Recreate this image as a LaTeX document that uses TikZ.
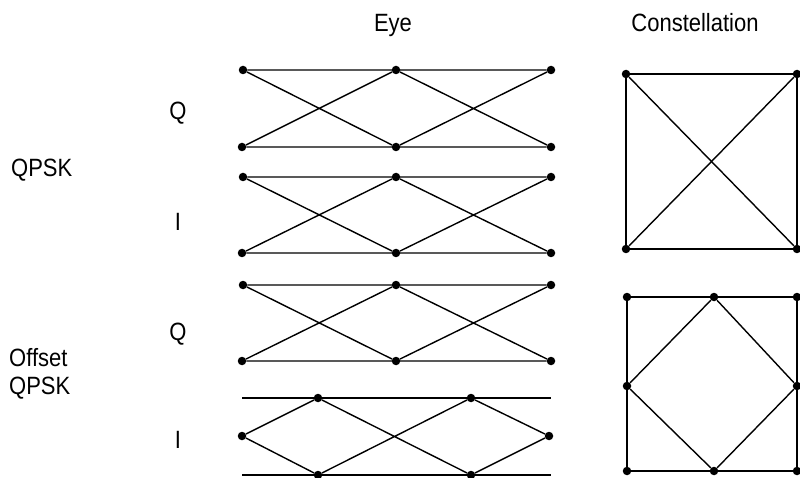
\documentclass[tikz,border=0pt]{standalone}
\usepackage{fontspec}
\setmainfont[FakeStretch=0.88]{Liberation Sans}
\usetikzlibrary{positioning}
\tikzset{
  pt/.style={circle, fill=black, inner sep=0pt, minimum size=8.5pt},
  wire/.style={black, line width=1.4pt},
  lbl/.style={font=\fontsize{25}{28}\selectfont, inner sep=0pt},
}
% one eye diagram: name, top row y, bottom row y
\newcommand{\eyerow}[3]{%
  \node[pt] (#1tl) at (243,#2) {};
  \node[pt] (#1tm) at (396,#2) {};
  \node[pt] (#1tr) at (551,#2) {};
  \node[pt] (#1bl) at (242,#3) {};
  \node[pt] (#1bm) at (396,#3) {};
  \node[pt] (#1br) at (551,#3) {};
  \draw[wire] (#1tl) -- (#1tr) (#1bl) -- (#1br)
    (#1tl) -- (#1bm) -- (#1tr) (#1bl) -- (#1tm) -- (#1br);}

\begin{document}
\begin{tikzpicture}[x=1pt, y=-1pt]
  \useasboundingbox (0,0) rectangle (800,478);

  % headings
  \node[lbl, anchor=base] (eye) at (393,32) {Eye};
  \node[lbl, anchor=base] (con) at (695,32) {Constellation};

  % row labels
  \node[lbl, anchor=base] (qa) at (178,120) {Q};
  \node[lbl, anchor=base] (ia) at (178,231) {I};
  \node[lbl, anchor=base] (qb) at (178,340) {Q};
  \node[lbl, anchor=base] (ib) at (178,448) {I};
  \node[lbl, anchor=base west] (qpsk) at (11,177) {QPSK};
  \node[lbl, anchor=west, align=left] (oqpsk) at (9,374) {Offset\\QPSK};

  % eye diagrams
  \eyerow{qq}{70}{147}
  \eyerow{qi}{177}{253}
  \eyerow{oq}{285}{361}

  % offset I eye
  \coordinate (otl) at (242,398);
  \coordinate (otr) at (551,398);
  \coordinate (obl) at (242,475);
  \coordinate (obr) at (551,475);
  \node[pt] (oml) at (242,436) {};
  \node[pt] (omr) at (549,436) {};
  \node[pt] (ot1) at (318,398) {};
  \node[pt] (ot2) at (471,398) {};
  \node[pt] (ob1) at (318,475) {};
  \node[pt] (ob2) at (471,475) {};
  \draw[wire] (otl) -- (otr) (obl) -- (obr);
  \draw[wire] (oml) -- (ot1) -- (ob2) -- (omr) -- (ot2) -- (ob1) -- (oml);

  % QPSK constellation
  \node[pt] (c1) at (626,74) {};
  \node[pt] (c2) at (797,74) {};
  \node[pt] (c3) at (797,249) {};
  \node[pt] (c4) at (626,249) {};
  \draw[wire] (c1) -- (c2) -- (c3) -- (c4) -- (c1);
  \draw[wire] (c1) -- (c3) (c2) -- (c4);

  % offset QPSK constellation
  \node[pt] (d1) at (627,297) {};
  \node[pt] (d2) at (714,297) {};
  \node[pt] (d3) at (797,297) {};
  \node[pt] (d4) at (797,386) {};
  \node[pt] (d5) at (797,471) {};
  \node[pt] (d6) at (714,471) {};
  \node[pt] (d7) at (627,471) {};
  \node[pt] (d8) at (627,386) {};
  \draw[wire] (d1) -- (d3) -- (d5) -- (d7) -- (d1);
  \draw[wire] (d2) -- (d4) -- (d6) -- (d8) -- (d2);
\end{tikzpicture}
\end{document}
